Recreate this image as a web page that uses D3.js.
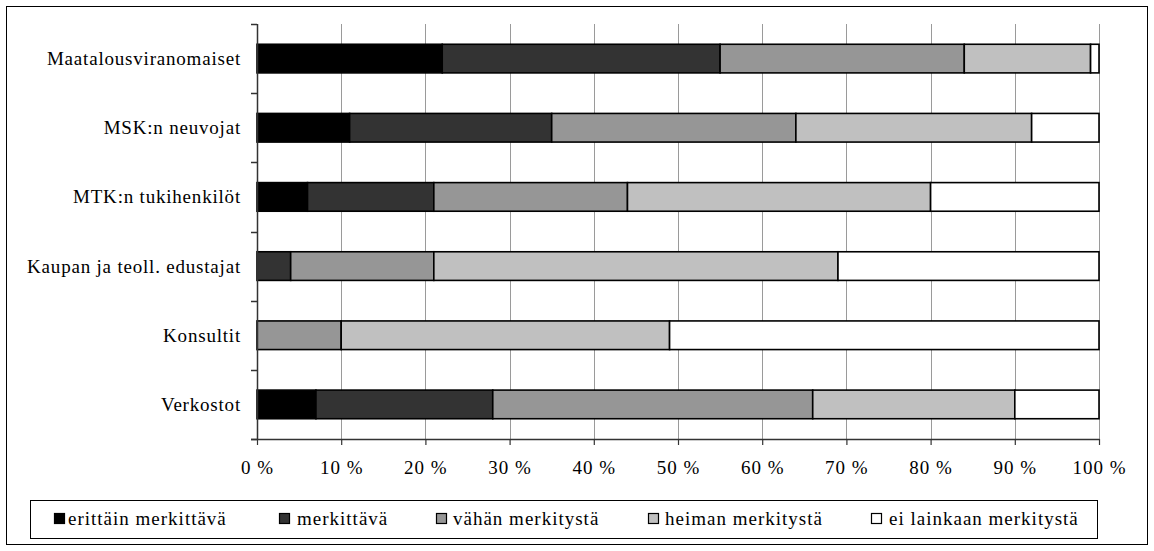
<!DOCTYPE html>
<html>
<head>
<meta charset="utf-8">
<script src="https://cdn.jsdelivr.net/npm/d3@7"></script>
<style>
  html, body { margin: 0; padding: 0; background: #fff; }
  svg { display: block; }
</style>
</head>
<body>
<svg id="chart" width="1154" height="551"></svg>
<script>
// Organisations, top to bottom
const categories = [
  "Maatalousviranomaiset",
  "MSK:n neuvojat",
  "MTK:n tukihenkilöt",
  "Kaupan ja teoll. edustajat",
  "Konsultit",
  "Verkostot"
];

// Answer classes (stack order left to right)
const seriesNames = [
  "erittäin merkittävä",
  "merkittävä",
  "vähän merkitystä",
  "heiman merkitystä",
  "ei lainkaan merkitystä"
];
const seriesColors = ["#000000", "#333333", "#969696", "#c0c0c0", "#ffffff"];

// Share of respondents (%) per class, one array per class, in category order
const erittainMerkittava = [22, 11, 6, 0, 0, 7];
const merkittava         = [33, 24, 15, 4, 0, 21];
const vahanMerkitysta    = [29, 29, 23, 17, 10, 38];
const heimanMerkitysta   = [15, 28, 36, 48, 39, 24];
const eiLainkaan         = [1, 8, 20, 31, 51, 10];

const tickValues = [0, 10, 20, 30, 40, 50, 60, 70, 80, 90, 100];

const FONT = "'Liberation Serif', 'DejaVu Serif', 'Times New Roman', serif";

const seriesValues = [erittainMerkittava, merkittava, vahanMerkitysta, heimanMerkitysta, eiLainkaan];
const rows = categories.map((c, i) => {
  const r = { category: c };
  seriesNames.forEach((s, k) => { r[s] = seriesValues[k][i]; });
  return r;
});
const stacked = d3.stack().keys(seriesNames)(rows);

const svg = d3.select("#chart");

function styleText(sel, size, spacing) {
  sel.style("font-family", FONT)
    .style("font-size", size + "px")
    .style("letter-spacing", spacing + "px")
    .style("fill", "#000");
}

// outer frame
svg.append("rect")
  .attr("x", 6.5).attr("y", 6.5)
  .attr("width", 1141).attr("height", 538)
  .attr("fill", "#fff").attr("stroke", "#000").attr("stroke-width", 1);

const plot = { left: 257, right: 1099, top: 24, bottom: 439 };

const x = d3.scaleLinear().domain([0, 100]).range([plot.left, plot.right]);
const y = d3.scaleBand()
  .domain(categories)
  .range([plot.top, plot.bottom])
  .paddingInner(0.586)
  .paddingOuter(0.293);

// vertical gridlines
svg.append("g")
  .selectAll("line")
  .data(tickValues.slice(1))
  .join("line")
  .attr("x1", d => Math.round(x(d)) + 0.5)
  .attr("x2", d => Math.round(x(d)) + 0.5)
  .attr("y1", plot.top)
  .attr("y2", plot.bottom)
  .attr("stroke", "#9a9a9a")
  .attr("stroke-width", 1);

// stacked bars
svg.append("g")
  .selectAll("g")
  .data(stacked)
  .join("g")
  .attr("fill", (d, i) => seriesColors[i])
  .selectAll("rect")
  .data(d => d.filter(p => p[1] - p[0] > 0))
  .join("rect")
  .attr("x", d => x(d[0]))
  .attr("y", d => y(d.data.category))
  .attr("width", d => x(d[1]) - x(d[0]))
  .attr("height", y.bandwidth())
  .attr("stroke", "#000")
  .attr("stroke-width", 1.6);

// category axis: band boundaries as ticks
const step = y.step();
const boundaries = d3.range(categories.length + 1).map(i => plot.top + i * step);
const leftAxis = svg.append("g");
leftAxis.append("line")
  .attr("x1", plot.left + 0.5).attr("x2", plot.left + 0.5)
  .attr("y1", plot.top).attr("y2", plot.bottom)
  .attr("stroke", "#333").attr("stroke-width", 1.5);
leftAxis.selectAll("line.tick")
  .data(boundaries)
  .join("line")
  .attr("class", "tick")
  .attr("x1", plot.left - 6).attr("x2", plot.left)
  .attr("y1", d => Math.round(d) + 0.5).attr("y2", d => Math.round(d) + 0.5)
  .attr("stroke", "#333").attr("stroke-width", 1.5);
leftAxis.selectAll("text")
  .data(categories)
  .join("text")
  .attr("x", 241)
  .attr("y", d => y(d) + y.bandwidth() / 2 + 6.5)
  .attr("text-anchor", "end")
  .call(styleText, 19, 0.8)
  .text(d => d);

// percentage axis
const xAxis = d3.axisBottom(x)
  .tickValues(tickValues)
  .tickSize(6)
  .tickSizeOuter(0)
  .tickFormat(d => d + " %");
const gx = svg.append("g")
  .attr("transform", `translate(0,${plot.bottom})`)
  .call(xAxis);
gx.select(".domain").attr("stroke", "#333").attr("stroke-width", 1.5);
gx.selectAll(".tick line").attr("stroke", "#333").attr("stroke-width", 1.2);
gx.selectAll(".tick text")
  .attr("y", 35)
  .attr("dy", null)
  .call(styleText, 19, 1.0);
// left stub of the x axis
svg.append("line")
  .attr("x1", plot.left - 6).attr("x2", plot.left)
  .attr("y1", plot.bottom + 0.5).attr("y2", plot.bottom + 0.5)
  .attr("stroke", "#333").attr("stroke-width", 1.5);

// legend
const legend = svg.append("g");
legend.append("rect")
  .attr("x", 30.5).attr("y", 500.5)
  .attr("width", 1067).attr("height", 38)
  .attr("fill", "#fff").attr("stroke", "#000").attr("stroke-width", 1);
const legendSwatchX = [54, 279, 436, 648, 871];
const legendTextX = [68, 297, 453, 665, 889];
const items = legend.selectAll("g.item")
  .data(seriesNames)
  .join("g")
  .attr("class", "item");
items.append("rect")
  .attr("x", (d, i) => legendSwatchX[i] + 0.5).attr("y", 513.5)
  .attr("width", 10).attr("height", 10)
  .attr("fill", (d, i) => seriesColors[i])
  .attr("stroke", "#000").attr("stroke-width", 1.2);
items.append("text")
  .attr("x", (d, i) => legendTextX[i])
  .attr("y", 524.5)
  .call(styleText, 19, 1.0)
  .text(d => d);
</script>
</body>
</html>
